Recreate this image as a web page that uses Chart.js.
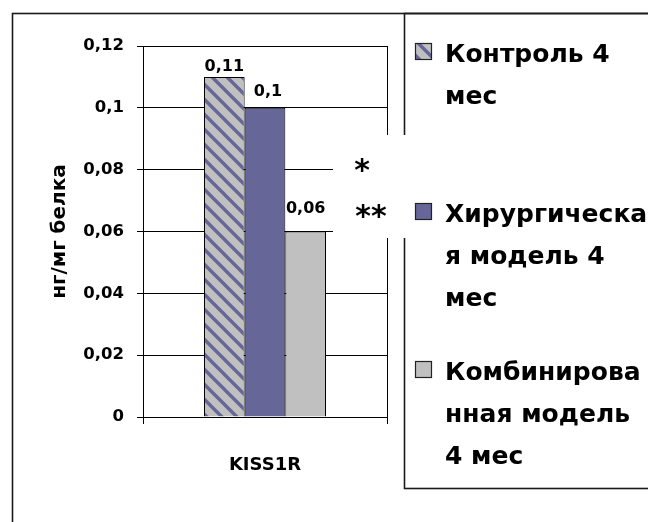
<!DOCTYPE html>
<html>
<head>
<meta charset="utf-8">
<script src="https://cdn.jsdelivr.net/npm/chart.js@4"></script>
<style>
  html, body { margin: 0; padding: 0; background: #fff; }
  #wrap { width: 648px; height: 522px; }
</style>
</head>
<body>
<div id="wrap"><canvas id="kissChart" width="648" height="522"></canvas></div>
<script>
// data
const categories = ['KISS1R'];
const control4 = [0.11];
const surgical4 = [0.1];
const combined4 = [0.06];
const seriesNames = [
  ['Контроль 4', 'мес'],
  ['Хирургическа', 'я модель 4', 'мес'],
  ['Комбинирова', 'нная модель', '4 мес']
];
const yTickValues = [0, 0.02, 0.04, 0.06, 0.08, 0.1, 0.12];
const yTickLabels = ['0', '0,02', '0,04', '0,06', '0,08', '0,1', '0,12'];
const valueLabels = ['0,11', '0,1', '0,06'];
const yTitle = 'нг/мг белка';
const marks = ['*', '**'];

const FONT = "'DejaVu Sans', sans-serif";
const BLUE = '#666699';
const GREY = '#C0C0C0';

// diagonal stripes for the control bar
function makeStripes() {
  const c = document.createElement('canvas');
  c.width = c.height = 15;
  const g = c.getContext('2d');
  g.fillStyle = GREY;
  g.fillRect(0, 0, 15, 15);
  g.strokeStyle = BLUE;
  g.lineWidth = 3.4;
  g.beginPath();
  g.moveTo(-8, -8); g.lineTo(23, 23);
  g.moveTo(-8, 7); g.lineTo(8, 23);
  g.moveTo(7, -8); g.lineTo(23, 8);
  g.stroke();
  return g.createPattern(c, 'repeat');
}
const stripes = makeStripes();
const fills = [stripes, BLUE, GREY];

// label lift above each bar, as in the original
const labelLift = [6, 12, 19];

const valueLabelPlugin = {
  id: 'valueLabels',
  afterDatasetsDraw(chart) {
    const ctx = chart.ctx;
    ctx.save();
    ctx.font = 'bold 16px ' + FONT;
    ctx.fillStyle = '#000';
    ctx.textAlign = 'center';
    ctx.textBaseline = 'alphabetic';
    chart.data.datasets.forEach((ds, i) => {
      const bar = chart.getDatasetMeta(i).data[0];
      ctx.fillText(valueLabels[i], bar.x + (i === 1 ? 3 : 0), bar.y - labelLift[i]);
    });
    ctx.restore();
  }
};

const framePlugin = {
  id: 'frame',
  afterDraw(chart) {
    const ctx = chart.ctx;
    const a = chart.chartArea;
    ctx.save();
    ctx.strokeStyle = '#000';
    ctx.lineWidth = 1;
    // plot right edge
    ctx.beginPath();
    ctx.moveTo(Math.round(a.right) + 0.5, a.top);
    ctx.lineTo(Math.round(a.right) + 0.5, a.bottom);
    ctx.stroke();
    // outer frame
    ctx.lineWidth = 1.6;
    ctx.strokeStyle = '#1a1a1a';
    ctx.strokeRect(12.5, 13.5, 700, 600);
    // legend box
    ctx.strokeRect(404.5, 13.5, 300, 475);

    // white patch with significance marks
    ctx.fillStyle = '#fff';
    ctx.fillRect(333, 135, 76, 103);
    ctx.fillStyle = '#000';
    ctx.font = 'bold 30px ' + FONT;
    ctx.textAlign = 'center';
    ctx.textBaseline = 'alphabetic';
    ctx.fillText(marks[0], 362, 180);
    ctx.fillText(marks[1], 371, 226);

    // legend
    const starts = [62, 222, 380];
    ctx.textAlign = 'left';
    ctx.font = 'bold 25px ' + FONT;
    seriesNames.forEach((lines, i) => {
      const base = starts[i];
      ctx.fillStyle = fills[i];
      ctx.fillRect(415, base - 19, 17, 17);
      ctx.lineWidth = 1.2;
      ctx.strokeStyle = '#222';
      ctx.strokeRect(415.5, base - 18.5, 16, 16);
      ctx.fillStyle = '#000';
      lines.forEach((t, j) => ctx.fillText(t, 445, base + j * 42));
    });
    ctx.restore();
  }
};

const ctx = document.getElementById('kissChart').getContext('2d');
new Chart(ctx, {
  type: 'bar',
  data: {
    labels: categories,
    datasets: [
      { label: seriesNames[0].join(' '), data: control4, backgroundColor: stripes, borderColor: '#000', borderWidth: 1 },
      { label: seriesNames[1].join(' '), data: surgical4, backgroundColor: BLUE, borderColor: '#000', borderWidth: 1 },
      { label: seriesNames[2].join(' '), data: combined4, backgroundColor: GREY, borderColor: '#000', borderWidth: 1 }
    ]
  },
  options: {
    responsive: false,
    animation: false,
    devicePixelRatio: 1,
    layout: { padding: { left: 12, top: 46, right: 261, bottom: 0 } },
    datasets: { bar: { categoryPercentage: 0.5, barPercentage: 1 } },
    scales: {
      x: {
        grid: { display: true, drawOnChartArea: false, drawTicks: true, tickLength: 7, color: '#000', offset: true },
        border: { display: true, color: '#000' },
        ticks: { padding: 31, color: '#000', font: { family: FONT, size: 18, weight: 'bold' } },
        afterFit: s => { s.height = 105; }
      },
      y: {
        min: 0,
        max: 0.12,
        afterBuildTicks: s => { s.ticks = yTickValues.map(v => ({ value: v })); },
        ticks: {
          padding: 13,
          color: '#000',
          font: { family: FONT, size: 16.5, weight: 'bold' },
          callback: (v, i) => yTickLabels[i]
        },
        grid: { color: '#000', tickLength: 6 },
        border: { display: true, color: '#000' },
        title: {
          display: true,
          text: yTitle,
          color: '#000',
          font: { family: FONT, size: 20, weight: 'bold' },
          padding: { top: 36, bottom: 0 }
        },
        afterFit: s => { s.width = 131; }
      }
    },
    plugins: {
      legend: { display: false },
      tooltip: { enabled: false }
    }
  },
  plugins: [valueLabelPlugin, framePlugin]
});
</script>
</body>
</html>
